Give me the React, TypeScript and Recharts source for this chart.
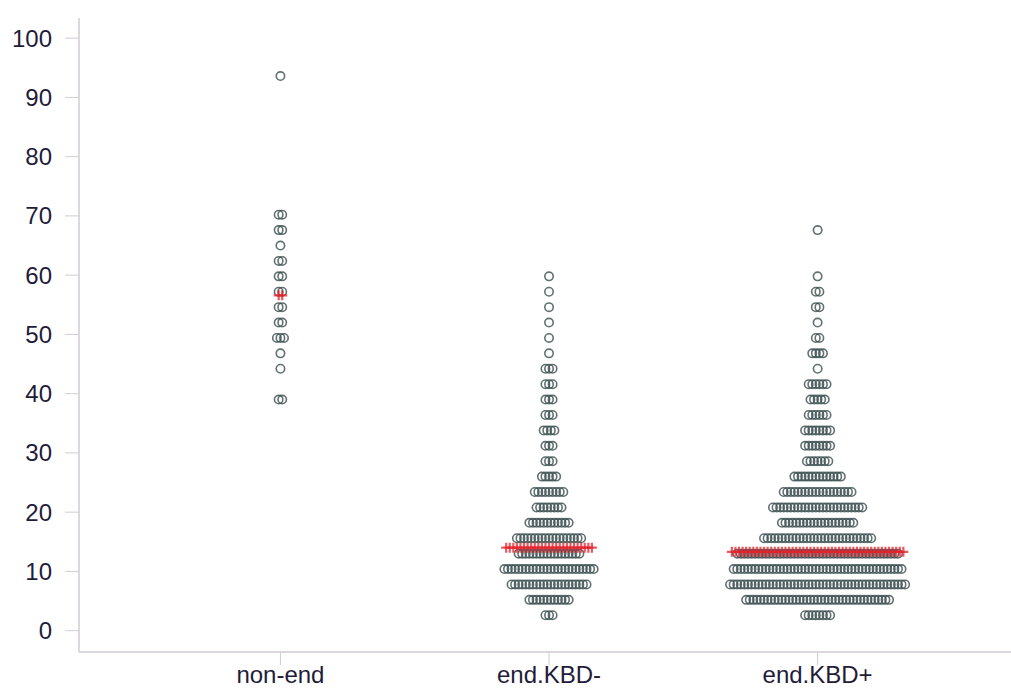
import { ScatterChart, Scatter, XAxis, YAxis } from 'recharts'

const categories = ['non-end', 'end.KBD-', 'end.KBD+']

// score levels (rows of the swarm) and how many points sit on each row
const nonEndLevels = [39.0, 44.2, 46.8, 49.4, 52.0, 54.6, 57.2, 59.8, 62.4, 65.0, 67.6, 70.2, 93.6]
const nonEndCounts = [2, 1, 1, 3, 2, 2, 2, 2, 2, 1, 2, 2, 1]

const kbdNegLevels = [2.6, 5.2, 7.8, 10.4, 13.0, 15.6, 18.2, 20.8, 23.4, 26.0, 28.6, 31.2, 33.8, 36.4, 39.0, 41.6, 44.2, 46.8, 49.4, 52.0, 54.6, 57.2, 59.8]
const kbdNegCounts = [3, 12, 22, 26, 18, 19, 12, 8, 9, 5, 3, 3, 4, 3, 3, 3, 3, 1, 1, 1, 1, 1, 1]

const kbdPosLevels = [2.6, 5.2, 7.8, 10.4, 13.0, 15.6, 18.2, 20.8, 23.4, 26.0, 28.6, 31.2, 33.8, 36.4, 39.0, 41.6, 44.2, 46.8, 49.4, 52.0, 54.6, 57.2, 59.8, 67.6]
const kbdPosCounts = [8, 41, 50, 48, 46, 31, 21, 26, 20, 14, 7, 8, 8, 6, 5, 6, 1, 4, 2, 1, 2, 2, 1, 1]

const medians = [56.6, 14.0, 13.3]
const medianCounts = [2, 25, 49]

const yTicks = [0, 10, 20, 30, 40, 50, 60, 70, 80, 90, 100]

const STEP = 0.0133 // horizontal offset between neighbours in a row (x units)

function swarm(cat: number, levels: number[], counts: number[]) {
  const pts: { x: number; y: number }[] = []
  levels.forEach((y, r) => {
    const n = counts[r]
    for (let i = 0; i < n; i++) {
      pts.push({ x: cat + (i - (n - 1) / 2) * STEP, y })
    }
  })
  return pts
}

const points = [
  ...swarm(1, nonEndLevels, nonEndCounts),
  ...swarm(2, kbdNegLevels, kbdNegCounts),
  ...swarm(3, kbdPosLevels, kbdPosCounts),
]

const medianPoints = medians.flatMap((m, c) => swarm(c + 1, [m], [medianCounts[c]]))

const Ring = (props: any) => (
  <circle cx={props.cx} cy={props.cy} r={4.2} fill="none" stroke="#3a4c4d" strokeOpacity={0.8} strokeWidth={1.6} />
)

const Cross = (props: any) => (
  <path
    d={`M${props.cx - 5},${props.cy}h10M${props.cx},${props.cy - 5}v10`}
    stroke="#e3222a"
    strokeOpacity={0.75}
    strokeWidth={2.2}
  />
)

const font = { fontSize: 24, fill: '#1f1c3a', fontFamily: 'Liberation Sans, Arial, sans-serif' }
const axisColor = '#d2cbd6'

export default function App() {
  return (
    <div style={{ position: 'absolute', left: 0, top: 0, background: '#fff' }}>
      <ScatterChart width={1011} height={688} margin={{ top: 18, right: 0, bottom: 0, left: 0 }}>
        <XAxis
          type="number"
          dataKey="x"
          domain={[0.25, 3.72]}
          ticks={[1, 2, 3]}
          tickFormatter={(v: number) => categories[v - 1]}
          allowDataOverflow
          height={36}
          tickSize={13}
          tickMargin={1}
          tick={font}
          axisLine={{ stroke: axisColor, strokeWidth: 1.5 }}
          tickLine={{ stroke: axisColor }}
        />
        <YAxis
          type="number"
          dataKey="y"
          domain={[-3.6, 103.4]}
          ticks={yTicks}
          allowDataOverflow
          width={79}
          tickSize={14}
          tickMargin={13}
          tick={font}
          axisLine={{ stroke: axisColor, strokeWidth: 1.5 }}
          tickLine={{ stroke: axisColor }}
        />
        <Scatter data={points} shape={Ring} isAnimationActive={false} />
        <Scatter data={medianPoints} shape={Cross} isAnimationActive={false} />
      </ScatterChart>
    </div>
  )
}
